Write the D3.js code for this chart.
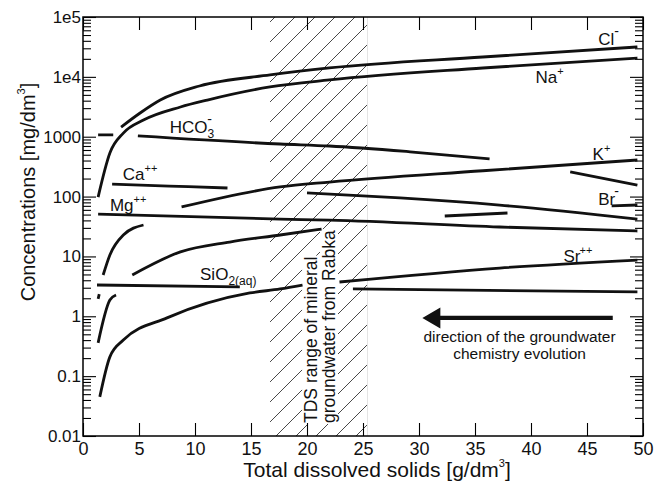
<!DOCTYPE html>
<html>
<head>
<meta charset="utf-8">
<script src="https://cdn.jsdelivr.net/npm/d3@7"></script>
<style>
    body { margin: 0; background: #fff; }
    svg { display: block; font-family: "Liberation Sans", Arial, sans-serif; }
</style>
</head>
<body>
<svg id="chart" width="657" height="486"></svg>
<script>
// values: [TDS g/dm3, concentration mg/dm3], null = break in the line
const clData = [[3.4, 1450], [5.1, 2490], [6.9, 4100], [10.4, 7030], [16.7, 10750], [22, 14080], [35.7, 21460], [49.5, 31600]];
const naData = [[1.35, 98], [2.4, 534], [3.6, 1150], [5.4, 1900], [8.7, 3140], [11.1, 4100], [16.7, 6780], [22, 8870], [35.7, 14060], [49.5, 20650]];
const hco3Data = [[1.35, 1070], [2.7, 1070], null, [4.9, 1030], [17.6, 755], [22, 700], [29.2, 560], [36.3, 425], null, [43.5, 258], [49.5, 156]];
const kData = [[1.35, 1.95], [1.45, 2.35], null, [1.8, 4.9], [2.4, 10.6], [3.6, 22.8], [5.4, 33.5], null, [8.8, 67], [17.6, 145], [22, 175], [35.7, 270], [49.5, 408]];
const caData = [[2.6, 162], [7.7, 150], [12.9, 139], null, [20, 115], [28.3, 95], [37.2, 72], [49.5, 42]];
const brData = [[1.35, 0.36], [2.4, 1.87], [2.95, 2.27], null, [4.4, 4.9], [8.7, 11.9], [13.1, 17.4], [17.6, 22.8], [21.3, 28.7], null, [32.3, 47.4], [37.9, 53.2], null, [47.2, 69.7], [49.5, 72.3]];
const mgData = [[1.35, 51], [17.6, 42], [22, 40.5], [37.2, 31], [49.5, 26.6]];
const srData = [[1.5, 0.045], [2.4, 0.21], [3.6, 0.40], [7.5, 0.94], [14.9, 2.45], [17.6, 2.86], [19.6, 3.33], null, [22.9, 3.74], [37.2, 6.4], [49.5, 8.7]];
const sio2Data = [[1.25, 3.33], [14, 3.09], null, [24.1, 2.86], [49.5, 2.55]];

const xTicks = [0, 5, 10, 15, 20, 25, 30, 35, 40, 45, 50];
const yTicks = [0.01, 0.1, 1, 10, 100, 1000, 1e4, 1e5];
const yTickLabels = ["0.01", "0.1", "1", "10", "100", "1000", "1e4", "1e5"];

const tdsRange = [16.7, 25.4];   // hatched band
const arrowSpan = [47.3, 30.3];  // arrow from -> to (TDS)
const arrowLevel = 0.94;         // concentration level of arrow

// ion labels: text parts and anchor [TDS, conc] of the text baseline start
const ionLabels = [
    { at: [46.0, 34000], parts: [{ t: "Cl" }, { t: "-", sup: true, big: true }] },
    { at: [40.4, 7890], parts: [{ t: "Na" }, { t: "+", sup: true }] },
    { at: [7.75, 1153], parts: [{ t: "HCO" }, { t: "3", sub: true }, { t: "-", sup: true, big: true, back: 7 }] },
    { at: [45.5, 408], parts: [{ t: "K" }, { t: "+", sup: true }] },
    { at: [3.55, 189], parts: [{ t: "Ca" }, { t: "++", sup: true }] },
    { at: [46.0, 72], parts: [{ t: "Br" }, { t: "-", sup: true, big: true, back: 1 }] },
    { at: [2.4, 57], parts: [{ t: "Mg" }, { t: "++", sup: true }] },
    { at: [10.45, 4.03], parts: [{ t: "SiO" }, { t: "2(aq)", sub: true }] },
    { at: [42.9, 8.07], parts: [{ t: "Sr" }, { t: "++", sup: true, back: 1 }] }
];

const series = [naData, clData, hco3Data, kData, caData, mgData, brData, sio2Data, srData];

const svg = d3.select("#chart");
const svgWidth = +svg.attr("width");
const svgHeight = +svg.attr("height");
const margin = { top: 17, left: 83, right: 14, bottom: 50 };

const x = d3.scaleLinear()
    .domain([0, 50])
    .range([margin.left, svgWidth - margin.right]);
const y = d3.scaleLog()
    .domain([0.01, 1e5])
    .range([svgHeight - margin.bottom, margin.top]);

// hatch pattern
const defs = svg.append("defs");
const pat = defs.append("pattern")
    .attr("id", "hatch")
    .attr("patternUnits", "userSpaceOnUse")
    .attr("width", 20)
    .attr("height", 20)
    .attr("patternTransform", "translate(12,0)");
pat.append("path")
    .attr("d", "M-5,5 L5,-5 M0,20 L20,0 M15,25 L25,15")
    .attr("stroke", "#333")
    .attr("stroke-width", 0.9);

svg.append("rect")
    .attr("x", x(tdsRange[0]))
    .attr("y", y(1e5))
    .attr("width", x(tdsRange[1]) - x(tdsRange[0]))
    .attr("height", y(0.01) - y(1e5))
    .attr("fill", "url(#hatch)");
svg.append("line")
    .attr("x1", x(tdsRange[1])).attr("x2", x(tdsRange[1]))
    .attr("y1", y(1e5)).attr("y2", y(0.01))
    .attr("stroke", "#e4e4e4");

// TDS note inside band
const note = svg.append("g");
const noteLines = ["TDS range of mineral", "groundwater from Rabka"];
const noteX = [20.9, 22.5];
noteLines.forEach((s, i) => {
    const t = note.append("text")
        .attr("transform", `translate(${x(noteX[i])},${y(0.0165)}) rotate(-90)`)
        .attr("font-size", 17.5)
        .attr("fill", "#111")
        .text(s);
    const b = t.node().getBBox();
    note.insert("rect", "text")
        .attr("transform", `translate(${x(noteX[i])},${y(0.0165)}) rotate(-90)`)
        .attr("x", b.x - 1).attr("y", b.y + 1)
        .attr("width", b.width + 2).attr("height", b.height - 2)
        .attr("fill", "#fff");
});

// axes
const minorY = y.ticks().filter(v => !yTicks.some(t => Math.abs(t - v) / t < 1e-6));
const plotBottom = y(0.01), plotTop = y(1e5), plotLeft = x(0), plotRight = x(50);

const styleAxis = g => {
    g.select(".domain").remove();
    g.selectAll(".tick line").attr("stroke", "#000").attr("stroke-width", 1.1);
    g.selectAll(".tick text").attr("fill", "#111").attr("font-family", "Liberation Sans, Arial, sans-serif");
};

svg.append("g")
    .attr("transform", `translate(0,${plotBottom})`)
    .call(d3.axisBottom(x).tickValues(xTicks).tickSize(-13).tickPadding(6))
    .call(styleAxis)
    .call(g => g.selectAll(".tick text").attr("font-size", 18));
svg.append("g")
    .attr("transform", `translate(0,${plotTop})`)
    .call(d3.axisTop(x).tickValues(xTicks).tickSize(-13).tickFormat(""))
    .call(styleAxis);

svg.append("g")
    .attr("transform", `translate(${plotLeft},0)`)
    .call(d3.axisLeft(y).tickValues(yTicks).tickSize(-13).tickPadding(2).tickFormat((d, i) => yTickLabels[i]))
    .call(styleAxis)
    .call(g => g.selectAll(".tick text").attr("font-size", 17));
svg.append("g")
    .attr("transform", `translate(${plotLeft},0)`)
    .call(d3.axisLeft(y).tickValues(minorY).tickSize(-8).tickFormat(""))
    .call(styleAxis);
svg.append("g")
    .attr("transform", `translate(${plotRight},0)`)
    .call(d3.axisRight(y).tickValues(yTicks).tickSize(-13).tickFormat(""))
    .call(styleAxis);
svg.append("g")
    .attr("transform", `translate(${plotRight},0)`)
    .call(d3.axisRight(y).tickValues(minorY).tickSize(-8).tickFormat(""))
    .call(styleAxis);

svg.append("rect")
    .attr("x", plotLeft).attr("y", plotTop)
    .attr("width", plotRight - plotLeft).attr("height", plotBottom - plotTop)
    .attr("fill", "none").attr("stroke", "#000").attr("stroke-width", 1.5);

// curves
const line = d3.line()
    .defined(d => d !== null)
    .x(d => x(d[0]))
    .y(d => y(d[1]))
    .curve(d3.curveMonotoneX);

svg.append("g")
    .selectAll("path")
    .data(series)
    .enter()
    .append("path")
    .attr("d", line)
    .attr("fill", "none")
    .attr("stroke", "#111")
    .attr("stroke-width", 2.8)
    .attr("stroke-linecap", "butt");

// ion labels
const labG = svg.append("g").attr("fill", "#111");
ionLabels.forEach(lab => {
    const t = labG.append("text")
        .attr("x", x(lab.at[0]))
        .attr("y", y(lab.at[1]))
        .attr("font-size", 17);
    let shift = 0;
    lab.parts.forEach(p => {
        const target = p.sup ? (p.big ? -9 : -8) : p.sub ? 5 : 0;
        const s = t.append("tspan").text(p.t).attr("dy", target - shift);
        if (p.sup) s.attr("font-size", p.big ? 14 : 11);
        if (p.sub) s.attr("font-size", 12);
        if (p.back) s.attr("dx", -p.back);
        shift = target;
    });
});

// arrow
const ax0 = x(arrowSpan[0]), ax1 = x(arrowSpan[1]), ay = y(arrowLevel);
const headL = 18, headH = 10.5, shaftH = 2.2;
svg.append("path")
    .attr("d", `M${ax1},${ay} L${ax1 + headL},${ay - headH} L${ax1 + headL},${ay - shaftH} L${ax0},${ay - shaftH} L${ax0},${ay + shaftH} L${ax1 + headL},${ay + shaftH} L${ax1 + headL},${ay + headH} Z`)
    .attr("fill", "#111");
const cap = ["direction of the groundwater", "chemistry evolution"];
cap.forEach((s, i) => {
    svg.append("text")
        .attr("x", (ax0 + ax1) / 2 + 2)
        .attr("y", ay + 24 + i * 17)
        .attr("text-anchor", "middle")
        .attr("font-size", 15.5)
        .attr("fill", "#111")
        .text(s);
});

// axis titles
const xt = svg.append("text")
    .attr("x", (plotLeft + plotRight) / 2 + 14)
    .attr("y", 477)
    .attr("text-anchor", "middle")
    .attr("font-size", 21)
    .attr("fill", "#111");
xt.append("tspan").text("Total dissolved solids [g/dm");
xt.append("tspan").text("3").attr("font-size", 11).attr("dy", -10);
xt.append("tspan").text("]").attr("dy", 10);

const yt = svg.append("text")
    .attr("transform", `translate(35,192) rotate(-90)`)
    .attr("text-anchor", "middle")
    .attr("font-size", 20)
    .attr("fill", "#111");
yt.append("tspan").text("Concentrations [mg/dm");
yt.append("tspan").text("3").attr("font-size", 11).attr("dy", -10);
yt.append("tspan").text("]").attr("dy", 10);
</script>
</body>
</html>
